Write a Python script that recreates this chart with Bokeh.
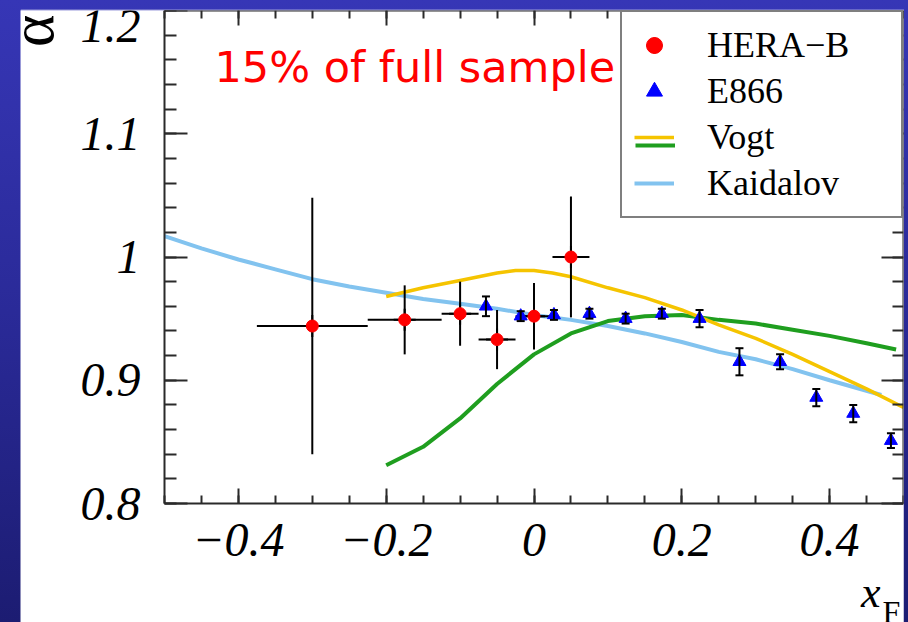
import math
import numpy as np
from bokeh.plotting import figure
from bokeh.models import (ColumnDataSource, FixedTicker, LinearAxis, Range1d, Label,
                          Legend, LegendItem, Whisker, TeeHead, CustomJSTickFormatter)
from bokeh.layouts import column
from bokeh.embed import file_html
from bokeh.resources import INLINE

# ---------------- data ----------------
hera_x = [-0.300, -0.175, -0.100, -0.050, 0.000, 0.050]
hera_y = [0.944, 0.949, 0.954, 0.933, 0.952, 1.000]
hera_xerr = [0.075, 0.050, 0.025, 0.025, 0.025, 0.025]
hera_yerr = [0.104, 0.028, 0.026, 0.024, 0.027, 0.049]

e866_x = [-0.065, -0.018, 0.027, 0.075, 0.124, 0.173, 0.224, 0.278, 0.333, 0.382, 0.432, 0.483]
e866_y = [0.960, 0.952, 0.953, 0.954, 0.950, 0.954, 0.950, 0.915, 0.915, 0.886, 0.873, 0.851]
e866_err = [0.008, 0.004, 0.004, 0.004, 0.004, 0.004, 0.007, 0.011, 0.006, 0.007, 0.007, 0.006]

vogt_yellow_x = [-0.2, -0.15, -0.1, -0.05, -0.025, 0.0, 0.025, 0.05, 0.1, 0.15, 0.2, 0.25, 0.3, 0.35, 0.4, 0.45, 0.5]
vogt_yellow_y = [0.968, 0.975, 0.981, 0.987, 0.989, 0.989, 0.987, 0.984, 0.975, 0.967, 0.957, 0.945, 0.934, 0.921, 0.907, 0.893, 0.878]

vogt_green_x = [-0.2, -0.15, -0.1, -0.05, 0.0, 0.05, 0.1, 0.15, 0.2, 0.25, 0.3, 0.35, 0.4, 0.45, 0.49]
vogt_green_y = [0.831, 0.846, 0.869, 0.897, 0.921, 0.938, 0.948, 0.952, 0.953, 0.949, 0.946, 0.941, 0.936, 0.930, 0.925]

kaid_x = [-0.5, -0.45, -0.4, -0.35, -0.3, -0.25, -0.2, -0.15, -0.1, -0.05, 0.0, 0.05, 0.1, 0.15, 0.2, 0.25, 0.3, 0.35, 0.4, 0.47]
kaid_y = [1.017, 1.007, 0.998, 0.990, 0.982, 0.976, 0.971, 0.966, 0.962, 0.958, 0.953, 0.949, 0.944, 0.938, 0.931, 0.923, 0.917, 0.909, 0.900, 0.888]

x_lo, x_hi = -0.5, 0.5
y_lo, y_hi = 0.8, 1.2
x_major_ticks = [-0.4, -0.2, 0.0, 0.2, 0.4]
x_minor_ticks = [round(-0.5 + 0.05 * i, 2) for i in range(21)]
y_major_ticks = [0.8, 0.9, 1.0, 1.1, 1.2]
y_minor_ticks = [round(0.8 + 0.02 * i, 2) for i in range(21)]

series_labels = ["HERA\u2212B", "E866", "Vogt", "Kaidalov"]
note_text = "15% of full sample"
y_title = "\u03b1"
x_title = "x"
x_title_sub = "F"

# ---------------- figure ----------------
SERIF = "Liberation Serif"
AX = "#2a2a2a"
W, H = 884, 613
LEFT_PAD = 144          # px between frame left and the x=-0.5 axis
AXIS_H = 493            # px from y=1.2 to y=0.8
frame_w = W - 1
frame_h = H - 1
x_start = x_lo - LEFT_PAD * (x_hi - x_lo) / (frame_w - LEFT_PAD)
y_start = y_hi - frame_h * (y_hi - y_lo) / AXIS_H

p = figure(width=W, height=H, x_range=Range1d(x_start, x_hi), y_range=Range1d(y_start, y_hi),
           output_backend="svg", toolbar_location=None,
           x_axis_location=None, y_axis_location=None,
           min_border_left=0, min_border_right=1, min_border_top=1, min_border_bottom=0,
           background_fill_color="white", border_fill_color="white")
p.outline_line_color = None
p.xgrid.visible = False
p.ygrid.visible = False

xfmt = CustomJSTickFormatter(code="""
if (Math.abs(tick) < 1e-9) return '0';
var s = Math.abs(tick).toFixed(1);
return tick < 0 ? '\u2212' + s : s;
""")
yfmt = CustomJSTickFormatter(code="""
if (Math.abs(tick - 1) < 1e-9) return '1';
return tick.toFixed(1);
""")
blank = CustomJSTickFormatter(code="return '';")


def style_axis(ax, maj, mnr, show):
    ax.axis_line_color = AX
    ax.axis_line_width = 2
    ax.major_tick_line_color = AX
    ax.major_tick_line_width = 2
    ax.minor_tick_line_color = AX
    ax.minor_tick_line_width = 2
    ax.major_tick_in = maj
    ax.major_tick_out = 0
    ax.minor_tick_in = mnr
    ax.minor_tick_out = 0
    if show:
        ax.major_label_text_font = SERIF
        ax.major_label_text_font_style = "italic"
        ax.major_label_text_font_size = "48px"
        ax.major_label_text_color = "black"
    else:
        ax.major_label_text_font_size = "1px"
        ax.major_label_standoff = 0


bottom = LinearAxis(ticker=FixedTicker(ticks=x_major_ticks, minor_ticks=x_minor_ticks),
                    formatter=xfmt, fixed_location=y_lo, bounds=(x_lo, x_hi))
style_axis(bottom, 15, 8, True)
bottom.major_label_standoff = 20
top = LinearAxis(ticker=FixedTicker(ticks=x_major_ticks, minor_ticks=x_minor_ticks),
                 formatter=blank, fixed_location=y_hi, bounds=(x_lo, x_hi))
style_axis(top, 15, 8, False)
left = LinearAxis(ticker=FixedTicker(ticks=y_major_ticks, minor_ticks=y_minor_ticks),
                  formatter=yfmt, fixed_location=x_lo, bounds=(y_lo, y_hi))
style_axis(left, 23, 12, True)
left.major_label_standoff = 24
right = LinearAxis(ticker=FixedTicker(ticks=y_major_ticks, minor_ticks=y_minor_ticks),
                   formatter=blank, fixed_location=x_hi, bounds=(y_lo, y_hi))
style_axis(right, 22, 11, False)

p.add_layout(bottom, "below")
p.add_layout(left, "left")
p.add_layout(top, "above")
p.add_layout(right, "right")

# ---------------- curves ----------------
r_kaid = p.line(kaid_x, kaid_y, line_color="#82c3ef", line_width=4)
r_green = p.line(vogt_green_x, vogt_green_y, line_color="#1f9e1f", line_width=4)
r_yellow = p.line(vogt_yellow_x, vogt_yellow_y, line_color="#f5c400", line_width=3.5)

# ---------------- HERA-B ----------------
hx = np.array(hera_x); hy = np.array(hera_y)
hxe = np.array(hera_xerr); hye = np.array(hera_yerr)
hsrc = ColumnDataSource(dict(x=hx, y=hy, xl=hx - hxe, xr=hx + hxe, yl=hy - hye, yu=hy + hye))
p.segment(x0="xl", y0="y", x1="xr", y1="y", source=hsrc, line_color="black", line_width=2)
p.segment(x0="x", y0="yl", x1="x", y1="yu", source=hsrc, line_color="black", line_width=2)
r_cross = p.scatter("x", "y", source=hsrc, marker="cross", size=22, line_color="black", line_width=2)
r_hera = p.scatter("x", "y", source=hsrc, marker="circle", size=12, fill_color="#ff0000", line_color="#ff0000")

# ---------------- E866 ----------------
ex = np.array(e866_x); ey = np.array(e866_y); ee = np.array(e866_err)
esrc = ColumnDataSource(dict(x=ex, y=ey, lo=ey - ee, hi=ey + ee))
wh = Whisker(source=esrc, base="x", upper="hi", lower="lo", dimension="height",
             line_color="black", line_width=2, level="glyph",
             upper_head=TeeHead(size=8, line_color="black", line_width=2),
             lower_head=TeeHead(size=8, line_color="black", line_width=2))
p.add_layout(wh)
r_e866 = p.scatter("x", "y", source=esrc, marker="triangle", size=13, fill_color="#0000ff", line_color="#0000ff")

# ---------------- legend ----------------
legend = Legend(items=[LegendItem(label=series_labels[0], renderers=[r_cross, r_hera]),
                       LegendItem(label=series_labels[1], renderers=[r_e866]),
                       LegendItem(label=series_labels[2], renderers=[r_yellow]),
                       LegendItem(label=series_labels[3], renderers=[r_kaid])],
                location="top_right", margin=0, padding=12, spacing=4,
                glyph_width=40, glyph_height=40, label_height=40, label_width=182,
                label_standoff=33, label_text_font=SERIF, label_text_font_size="36px",
                label_text_color="black", border_line_color="black", border_line_width=2,
                background_fill_color="white", background_fill_alpha=1.0)
p.add_layout(legend)
legend2 = Legend(items=[LegendItem(label=" ", renderers=[r_green])],
                 location=(615, 474), margin=0, padding=0, spacing=0,
                 glyph_width=40, glyph_height=6, label_height=0, label_width=0,
                 label_standoff=0, label_text_font_size="1px",
                 border_line_alpha=0, background_fill_alpha=0)
p.add_layout(legend2)

# ---------------- texts ----------------
p.add_layout(Label(x=x_lo, y=y_hi, x_offset=50, y_offset=-56, text=note_text,
                   text_font="DejaVu Sans", text_font_size="43px", text_color="#ff0000",
                   text_align="left", text_baseline="alphabetic"))
p.add_layout(Label(x=x_lo, y=y_hi, x_offset=-133, y_offset=-4, text=y_title, angle=math.pi / 2,
                   text_font=SERIF, text_font_size="62px", text_color="black",
                   text_align="right", text_baseline="alphabetic"))
p.add_layout(Label(x=x_hi, y=y_lo, x_offset=-23, y_offset=-89, text=x_title,
                   text_font=SERIF, text_font_style="italic", text_font_size="44px",
                   text_color="black", text_align="right", text_baseline="alphabetic"))
p.add_layout(Label(x=x_hi, y=y_lo, x_offset=-21, y_offset=-108, text=x_title_sub,
                   text_font=SERIF, text_font_size="32px", text_color="black",
                   text_align="left", text_baseline="alphabetic"))

p.margin = (9, 4, 0, 20)
layout = column(p, styles={"background": "linear-gradient(to bottom, #3636b6 0%, #2a2a98 50%, #1c1c72 100%)"})

open("out.html", "w").write(file_html(layout, INLINE))
